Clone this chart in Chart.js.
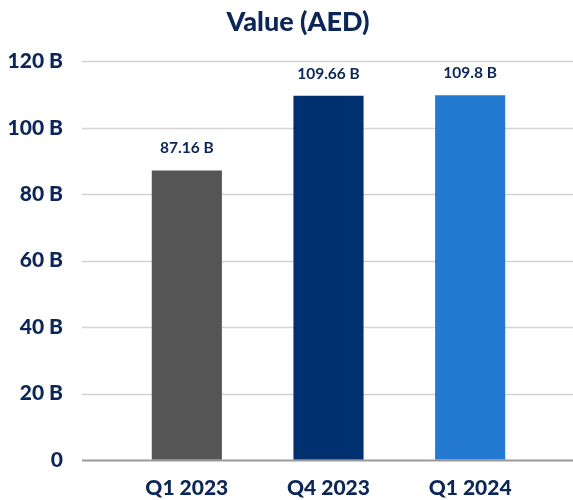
<!DOCTYPE html>
<html>
<head>
<meta charset="utf-8">
<script src="https://cdn.jsdelivr.net/npm/chart.js@4"></script>
<style>
  html, body { margin: 0; padding: 0; background: #ffffff; }
  #wrap { width: 573px; height: 500px; }
</style>
</head>
<body>
<div id="wrap"><canvas id="chart"></canvas></div>
<script>
const quarters = ['Q1 2023', 'Q4 2023', 'Q1 2024'];
const values = [87.16, 109.66, 109.8];
const valueLabels = ['87.16 B', '109.66 B', '109.8 B'];
const yTicks = [0, 20, 40, 60, 80, 100, 120];

const textColor = '#0c2657';
const fontFamily = 'Lato, "Open Sans", sans-serif';

// gridlines run the full width, past the bars' category band
const fullGrid = {
  id: 'fullGrid',
  beforeDatasetsDraw(chart) {
    const ctx = chart.ctx;
    const y = chart.scales.y;
    ctx.save();
    yTicks.forEach((t) => {
      const py = Math.round(y.getPixelForValue(t)) + 0.5;
      ctx.beginPath();
      ctx.strokeStyle = t === 0 ? '#9a9a9a' : '#d4d4d4';
      ctx.lineWidth = t === 0 ? 2 : 1.5;
      ctx.moveTo(82, py);
      ctx.lineTo(chart.width, py);
      ctx.stroke();
    });
    ctx.restore();
  }
};

const barLabels = {
  id: 'barLabels',
  afterDatasetsDraw(chart) {
    const ctx = chart.ctx;
    const meta = chart.getDatasetMeta(0);
    ctx.save();
    ctx.fillStyle = textColor;
    ctx.font = 'bold 15.5px ' + fontFamily;
    ctx.textAlign = 'center';
    ctx.textBaseline = 'middle';
    meta.data.forEach((bar, i) => {
      ctx.fillText(valueLabels[i], bar.x, bar.y - 22);
    });
    ctx.restore();
  }
};

new Chart(document.getElementById('chart'), {
  type: 'bar',
  data: {
    labels: quarters,
    datasets: [{
      data: values,
      backgroundColor: ['#555555', '#003070', '#237ad0'],
      barPercentage: 0.495,
      categoryPercentage: 1
    }]
  },
  options: {
    responsive: true,
    maintainAspectRatio: false,
    animation: false,
    // negative right padding shifts the title's centre to the right like the original
    layout: { padding: { left: 0, right: -23, top: 0, bottom: 0 } },
    plugins: {
      legend: { display: false },
      tooltip: { enabled: false },
      title: {
        display: true,
        text: 'Value (AED)',
        color: textColor,
        font: { family: fontFamily, size: 27, weight: '900' },
        padding: { top: 6, bottom: 23 }
      }
    },
    scales: {
      x: {
        grid: { display: false, drawTicks: false },
        border: { display: false },
        ticks: {
          color: textColor,
          font: { family: fontFamily, size: 21, weight: '900' },
          padding: 16
        },
        afterFit(s) { s.height = 40; }
      },
      y: {
        min: 0,
        max: 120,
        afterBuildTicks(s) { s.ticks = yTicks.map((v) => ({ value: v })); },
        grid: { display: true, drawOnChartArea: false, drawTicks: true, tickLength: 53, color: 'rgba(0,0,0,0)' },
        border: { display: false },
        ticks: {
          color: textColor,
          font: { family: fontFamily, size: 21, weight: '900' },
          padding: 0,
          callback: (v) => (v === 0 ? '0' : v + ' B')
        },
        afterFit(s) { s.width = 116; }
      },
      // empty right-hand axis that only keeps the bars clear of the right edge
      yRight: {
        position: 'right',
        display: true,
        grid: { display: false, drawTicks: false },
        border: { display: false },
        ticks: { display: false },
        afterFit(s) { s.width = 55; }
      }
    }
  },
  plugins: [fullGrid, barLabels]
});
</script>
</body>
</html>
